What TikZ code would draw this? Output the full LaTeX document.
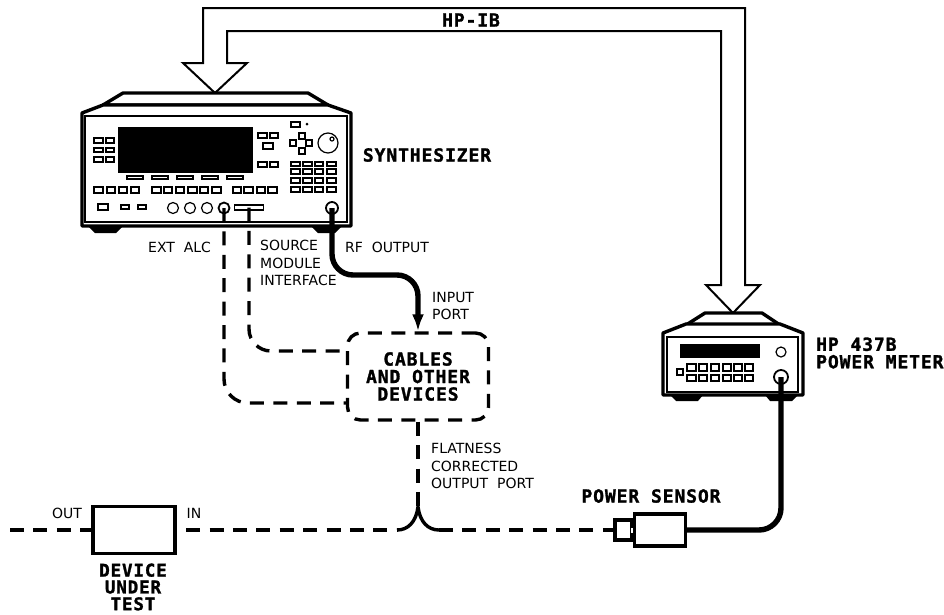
\documentclass[tikz,border=0pt]{standalone}
\usepackage{fontspec}
\setmainfont{DejaVu Sans}
\newfontfamily\plotfont[LetterSpace=5,FakeBold=1.5]{DejaVu Sans Mono}
\usetikzlibrary{arrows.meta}
\tikzset{
    biglabel/.style={font=\plotfont\bfseries\fontsize{18}{17.5}\selectfont, inner sep=0pt, align=center},
    smalllabel/.style={font=\fontsize{14}{17.5}\selectfont, inner sep=0pt, align=left},
    dashline/.style={line width=3.4pt, dash pattern=on 14pt off 9.4pt},
    cableline/.style={line width=5.4pt},
    casing/.style={line width=3.4pt, fill=white, line join=round},
    panel/.style={line width=1.6pt},
    btn/.style={line width=1.4pt},
    dial/.style={circle, draw, line width=1.2pt, fill=white, inner sep=0pt},
    portdial/.style={dial, line width=1.8pt},
    unitbox/.style={draw, line width=3.4pt, fill=white, inner sep=0pt}
}
\begin{document}
\begin{tikzpicture}[x=1pt, y=-1pt]
    \useasboundingbox (0,0) rectangle (944,614);

    % bus between the two instruments
    \coordinate (synthtip) at (215,93);
    \coordinate (metertip) at (733,313);
    \draw[line width=2pt, fill=white] (synthtip) -- (183,63) -- (203,63) -- (203,8) -- (745,8) -- (745,285) -- (760,285)
        -- (metertip) -- (706,285) -- (721,285) -- (721,31) -- (227,31) -- (227,63) -- (247,63) -- cycle;
    \node[biglabel] (buslabel) at (471,20) {HP-IB};

    % synthesizer
    \draw[casing] (103,105) -- (123,93) -- (308,93) -- (328,105) -- cycle;
    \fill (88,226) -- (123,226) -- (116,233) -- (95,233) -- cycle;
    \fill (311,226) -- (342,226) -- (335,233) -- (318,233) -- cycle;
    \draw[casing] (82,113) -- (103,105) -- (328,105) -- (351,113) -- (351,226) -- (82,226) -- cycle;
    \draw[panel] (85,116) rectangle (347,222);
    \fill (118,127) rectangle (253,173);
    \draw[btn] (127,176) rectangle (143,179) (152,176) rectangle (168,179) (177,176) rectangle (193,179) (202,176) rectangle (218,179) (227,176) rectangle (243,179);
    \draw[btn] (94,138) rectangle (103,143) (106,138) rectangle (114,143);
    \draw[btn] (94,148) rectangle (103,152) (106,148) rectangle (114,152);
    \draw[btn] (94,157) rectangle (103,162) (106,157) rectangle (114,162);
    \draw[btn] (258,133) rectangle (267,138) (270,133) rectangle (278,138) (263,143) rectangle (273,149) (258,162) rectangle (267,167) (270,162) rectangle (278,167);
    \draw[btn] (94,187) rectangle (103,193) (107,187) rectangle (115,193) (119,187) rectangle (127,193) (131,187) rectangle (139,193);
    \draw[btn] (152,187) rectangle (161,193) (164,187) rectangle (172,193) (176,187) rectangle (184,193) (188,187) rectangle (197,193) (200,187) rectangle (208,193) (212,187) rectangle (221,193);
    \draw[btn] (233,187) rectangle (241,193) (244,187) rectangle (253,193) (257,187) rectangle (265,193) (268,187) rectangle (277,193);
    \draw[btn] (98,204) rectangle (108,210) (121,205) rectangle (129,209) (138,205) rectangle (146,209);
    \draw[btn] (291,122) rectangle (300,127) (299,133) rectangle (305,139) (290,140) rectangle (296,146) (306,140) rectangle (312,146) (299,148) rectangle (305,154);
    \fill (307,124) circle (1.5);
    \draw[btn] (291,162) rectangle (300,166) (303,162) rectangle (312,166) (315,162) rectangle (323,166) (327,162) rectangle (336,166);
    \draw[btn] (291,169) rectangle (300,174) (303,169) rectangle (312,174) (315,169) rectangle (323,174) (327,169) rectangle (336,174);
    \draw[btn] (291,178) rectangle (300,183) (303,178) rectangle (312,183) (315,178) rectangle (323,183) (327,178) rectangle (336,183);
    \draw[btn] (291,187) rectangle (300,192) (303,187) rectangle (312,192) (315,187) rectangle (323,192) (327,187) rectangle (336,192);
    \node[dial, minimum size=20pt] (tunedial) at (328,143) {};
    \node[dial, minimum size=4pt] (tunespot) at (332,139) {};
    \node[dial, minimum size=11pt] (dialone) at (173,208) {};
    \node[dial, minimum size=11pt] (dialtwo) at (190,208) {};
    \node[dial, minimum size=11pt] (dialthree) at (207,208) {};
    \node[portdial, minimum size=11pt] (extalc) at (224,208) {};
    \node[draw, btn, fill=white, minimum width=29pt, minimum height=5pt, inner sep=0pt] (sourceport) at (249,207.5) {};
    \node[portdial, minimum size=12pt] (rfport) at (332,208) {};
    \node[biglabel] (synthlabel) at (427,155) {SYNTHESIZER};

    % power meter
    \draw[casing] (686,325) -- (705,313) -- (762,313) -- (780,325) -- cycle;
    \fill (670,395) -- (703,395) -- (698,401) -- (676,401) -- cycle;
    \fill (765,395) -- (798,395) -- (792,401) -- (770,401) -- cycle;
    \draw[casing] (663,333) -- (686,324) -- (780,324) -- (803,333) -- (803,395) -- (663,395) -- cycle;
    \draw[panel] (667,337) rectangle (798,392);
    \fill (680,344) rectangle (760,358);
    \draw[btn] (677,369) rectangle (683,375);
    \draw[btn] (687,364) rectangle (696,371) (699,364) rectangle (707,371) (711,364) rectangle (719,371) (723,364) rectangle (731,371) (734,364) rectangle (742,371) (745,364) rectangle (753,371);
    \draw[btn] (687,375) rectangle (696,381) (699,375) rectangle (707,381) (711,375) rectangle (719,381) (723,375) rectangle (731,381) (734,375) rectangle (742,381) (745,375) rectangle (753,381);
    \node[dial, minimum size=10pt] (meterdial) at (781,352) {};
    \node[portdial, minimum size=14pt] (sensorport) at (781,377) {};
    \node[biglabel, align=left, anchor=west] (meterlabel) at (816,353) {HP 437B\\POWER METER};

    % cables box
    \node[draw, dashline, rounded corners=13pt, minimum width=141pt, minimum height=87pt, inner sep=0pt, biglabel] (cables) at (418,376.5) {CABLES\\AND OTHER\\DEVICES};
    \coordinate (cablesa) at (347,351);
    \coordinate (cablesb) at (347,403);
    \draw[dashline, rounded corners=22pt] (sourceport.center) -- (249,351) -- (cablesa);
    \draw[dashline, rounded corners=24pt] (extalc.center) -- (224,403) -- (cablesb);
    \draw[cableline, rounded corners=21pt, -{Latex[length=17pt,width=12pt]}] (rfport.center) -- (332,275) -- (418,275) -- (cables.north);

    % device under test and sensor
    \node[unitbox, minimum width=82pt, minimum height=47pt] (dut) at (134,530) {};
    \coordinate (linestart) at (10,530);
    \node[unitbox, minimum width=17pt, minimum height=20pt] (sensorhead) at (623.5,530) {};
    \node[draw, line width=1pt, fill=white, minimum width=7pt, minimum height=6pt, inner sep=0pt] (sensorneck) at (633.5,530) {};
    \node[unitbox, minimum width=51pt, minimum height=32pt] (sensor) at (660,530) {};
    \coordinate (forktop) at (418,507);
    \coordinate (forkleft) at (397,530);
    \coordinate (forkright) at (439,530);
    \draw[dashline] (linestart) -- (dut.west);
    \draw[dashline, dash phase=14pt] (dut.east) -- (forkleft);
    \draw[line width=3.4pt] (forkleft) .. controls (408,530) and (416,522) .. (forktop) .. controls (420,522) and (428,530) .. (forkright);
    \draw[dashline] (forkright) -- (sensorhead.west);
    \draw[dashline] (cables.south) -- (forktop);
    \draw[cableline, rounded corners=22pt] (sensor.east) -- (781,530) -- (sensorport.center);

    % labels
    \node[smalllabel, anchor=west] (extlabel) at (148,247) {EXT\ \ ALC};
    \node[smalllabel, anchor=north west] (sourcelabel) at (260,240) {SOURCE\\MODULE\\INTERFACE};
    \node[smalllabel, anchor=west] (rflabel) at (345,247) {RF\ \ OUTPUT};
    \node[smalllabel, anchor=north west] (inputlabel) at (432,292) {INPUT\\PORT};
    \node[smalllabel, anchor=north west] (flatlabel) at (431,443) {FLATNESS\\CORRECTED\\OUTPUT\ \ PORT};
    \node[biglabel] (sensorlabel) at (651,496) {POWER SENSOR};
    \node[smalllabel] (outlabel) at (67,513) {OUT};
    \node[smalllabel] (inlabel) at (194,513) {IN};
    \node[biglabel, font=\plotfont\bfseries\fontsize{17.5}{16.8}\selectfont] (dutlabel) at (133,587) {DEVICE\\UNDER\\TEST};
\end{tikzpicture}
\end{document}
